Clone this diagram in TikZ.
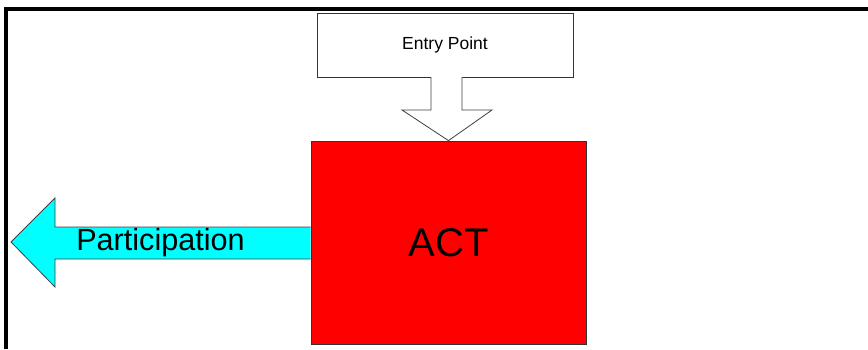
\documentclass[tikz,border=0pt]{standalone}
\usepackage{fontspec}
\setmainfont{Liberation Sans}
\definecolor{aqua}{RGB}{0,255,255}
\definecolor{actred}{RGB}{255,0,0}
\begin{document}
\begin{tikzpicture}[x=1pt, y=-1pt, line join=miter,
    box/.style={draw=black!80, line width=0.8pt, inner sep=0pt},
    blockarrow/.style={draw=black!75, line width=0.8pt}]
            \useasboundingbox (0,0) rectangle (868,349);
            \draw[line width=4pt] (6,349) -- (6,9) -- (868,9);
            \node[box, fill=white, minimum width=256pt, minimum height=64pt] (entry) at (445,45) {\fontsize{17.5}{20}\selectfont Entry Point};
            \node[box, fill=actred, minimum width=275pt, minimum height=203pt] (act) at (448.5,242.5) {\fontsize{40}{44}\selectfont ACT};
            \draw[blockarrow, fill=white] (431,77) |- (402,110) -- (act.north) -- (492,110) -| (462,77);
            \draw[blockarrow, fill=aqua] (act.west |- 0,227) -- (55,227) -- (55,198) -- (11,242) -- (55,287) -- (55,259) -- (act.west |- 0,259);
            \node[inner sep=0pt] (part) at (160.5,243) {\fontsize{30.6}{34}\selectfont Participation};
\end{tikzpicture}
\end{document}
